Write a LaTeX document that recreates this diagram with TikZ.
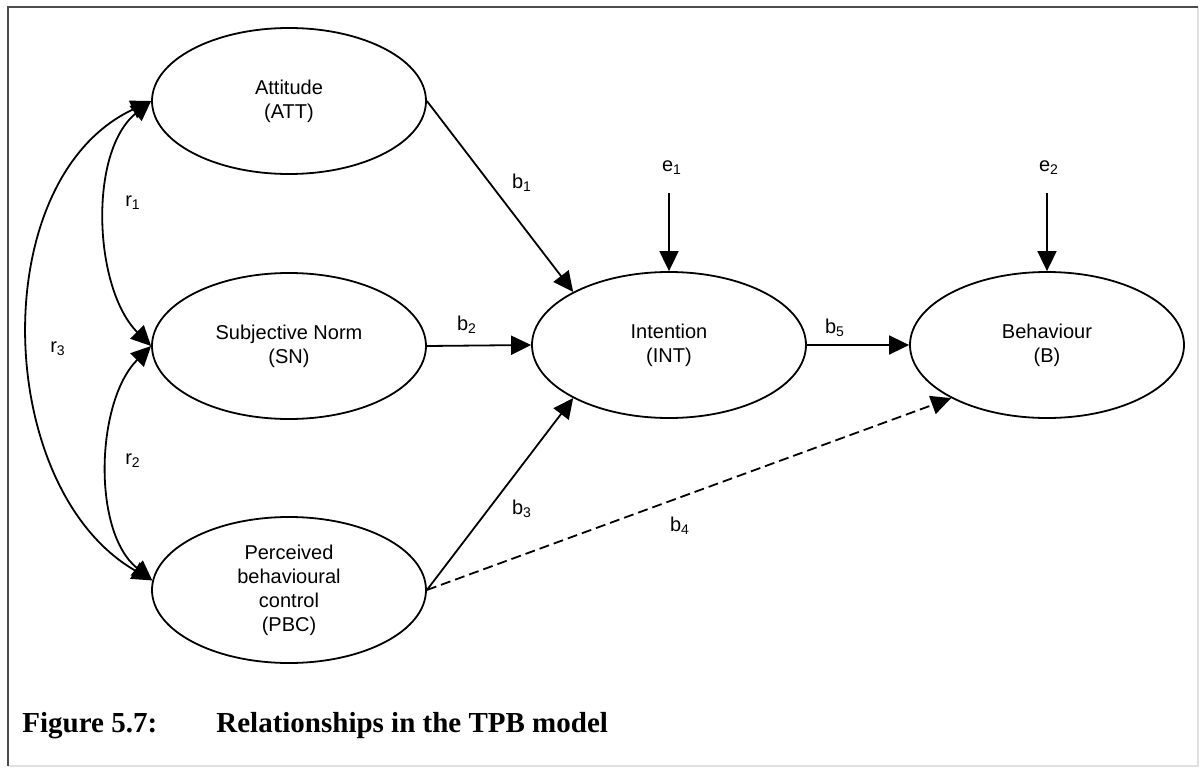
\documentclass[tikz,border=0pt]{standalone}
\usepackage{fontspec}
\setmainfont{Liberation Sans}
\newfontfamily\captionfont{Liberation Serif}
\usepackage{tikz}
\usetikzlibrary{shapes.geometric,arrows.meta}

\begin{document}
\begin{tikzpicture}%
                    [x=0.5pt,
                    y=0.5pt,
                    construct/.style={ellipse,draw=black,line width=0.9pt,minimum width=137pt,minimum height=73pt,inner sep=0pt,align=center,font=\fontsize{10}{12}\selectfont},
                    coef/.style={inner sep=1pt,font=\fontsize{10}{12}\selectfont},
                    effect/.style={line width=0.9pt,-{Triangle[length=10pt,width=9.5pt]}},
                    corr/.style={line width=0.9pt,{Triangle[length=10pt,width=9.5pt]}-{Triangle[length=10pt,width=9.5pt]}},
                    figtext/.style={anchor=base west,inner sep=0pt,font=\captionfont\bfseries\fontsize{14.5}{17}\selectfont}]

                \useasboundingbox (0,0) rectangle (1201,768);
                %% Drawing the frame
                \draw[black!12,line width=0.6pt] (1198,761) -- (1198,2) -- (8,2);
                \draw[black!70,line width=1pt] (8,2) -- (8,761) -- (1198,761);
                %%
                %% Drawing the constructs
                %%
                \node[construct] (att) at (289,667) {Attitude\\(ATT)};
                \node[construct] (sn)  at (289,422) {Subjective Norm\\(SN)};
                \node[construct] (pbc) at (289,178) {Perceived\\behavioural\\control\\(PBC)};
                \node[construct] (int) at (669,423) {Intention\\(INT)};
                \node[construct] (beh) at (1047,423) {Behaviour\\(B)};
                %% Error terms
                \node[coef] (e1) at (672,600) {e\textsubscript{1}};
                \node[coef] (e2) at (1049,600) {e\textsubscript{2}};
                \coordinate (e1tail) at (669,575);
                \coordinate (e2tail) at (1047,575);
                \draw[effect] (e1tail) -- (int.north);
                \draw[effect] (e2tail) -- (beh.north);
                %%
                %% Paths:
                \draw[effect] (att.east) -- (int.151);
                \draw[effect] (sn.east) -- (int.west);
                \draw[effect] (pbc.east) -- (int.209);
                \draw[effect,dash pattern=on 5pt off 2.5pt] (pbc.east) -- (beh.209);
                \draw[effect] (int.east) -- (beh.west);
                \node[coef] (b1) at (522,585) {b\textsubscript{1}};
                \node[coef] (b2) at (467,443) {b\textsubscript{2}};
                \node[coef] (b3) at (522,259) {b\textsubscript{3}};
                \node[coef] (b4) at (680,242) {b\textsubscript{4}};
                \node[coef] (b5) at (835,440) {b\textsubscript{5}};
                %% Correlations:
                \draw[corr] (att.west) to[out=219,in=135,looseness=0.85] (sn.west);
                \draw[corr] (sn.west) to[out=225,in=141,looseness=0.85] (pbc.176);
                \draw[corr] (att.west) to[out=205,in=150,looseness=0.98] (pbc.176);
                \node[coef] (r1) at (133,565) {r\textsubscript{1}};
                \node[coef] (r2) at (133,307) {r\textsubscript{2}};
                \node[coef] (r3) at (58,419) {r\textsubscript{3}};
                %%
                %% Caption
                \node[figtext] (fignum) at (22,36) {Figure 5.7:};
                \node[figtext] (figtitle) at (216,36) {Relationships in the TPB model};
                %%
                \end{tikzpicture}
\end{document}
